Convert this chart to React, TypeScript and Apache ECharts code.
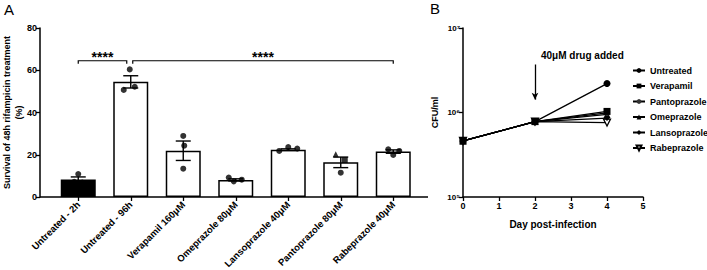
import React, { useEffect, useRef } from 'react';
import * as echarts from 'echarts';

// ---------- Panel A data ----------
const categories = [
  'Untreated - 2h',
  'Untreated - 96h',
  'Verapamil 160μM',
  'Omeprazole 80μM',
  'Lansoprazole 40μM',
  'Pantoprazole 80μM',
  'Rabeprazole 40μM',
];
const barMeans = [8.3, 54.5, 21.9, 8.1, 22.4, 16.4, 21.5];
const barSems = [1.2, 2.9, 4.6, 0.5, 0.4, 2.5, 0.8];
const replicates = [
  [10.9, 7.2, 6.8],
  [60.4, 50.7, 52.2],
  [28.9, 24.3, 13.4],
  [9.2, 7.4, 8.2],
  [21.8, 23.6, 22.9],
  [20.2, 17.5, 11.5],
  [22.6, 19.9, 21.8],
];
const replicateJitterPx = [
  [0, -4, 4],
  [-1, -7, 4],
  [0, 1, 0],
  [-7, -2, 6],
  [-9, 0, 9],
  [-5, 4, 0],
  [-5, 0, 6],
];
const replicateSymbols = [
  ['circle', 'circle', 'circle'],
  ['circle', 'circle', 'circle'],
  ['circle', 'circle', 'circle'],
  ['circle', 'circle', 'circle'],
  ['circle', 'circle', 'circle'],
  ['triangle', 'rect', 'circle'],
  ['circle', 'circle', 'circle'],
];
const yTicksA = [0, 20, 40, 60, 80];
const brackets = [
  { from: 0, to: 1, y: 64.5, label: '****', insetL: 0, insetR: -4 },
  { from: 1, to: 6, y: 64.5, label: '****', insetL: 2, insetR: 0 },
];

// ---------- Panel B data ----------
const days = [0, 2, 4];
const cfuUntreated = [4.6e5, 7.8e5, 2.2e6];
const cfuVerapamil = [4.6e5, 7.8e5, 1.03e6];
const cfuPantoprazole = [4.6e5, 7.8e5, 0.99e6];
const cfuOmeprazole = [4.6e5, 7.8e5, 0.95e6];
const cfuLansoprazole = [4.6e5, 7.8e5, 0.86e6];
const cfuRabeprazole = [4.6e5, 7.8e5, 0.76e6];
const drugAddedDay = 2;
const arrowFromTo = [3.7e6, 1.42e6];

const FONT = 'Liberation Sans';

export default function App() {
  const ref = useRef<HTMLDivElement>(null);

  useEffect(() => {
    if (!ref.current) return;
    const chart = echarts.init(ref.current, null, { renderer: 'svg' });

    const sup: Record<number, string> = { 5: '⁵', 6: '⁶', 7: '⁷' };

    const scatterData: any[] = [];
    replicates.forEach((vals, i) => {
      vals.forEach((v, j) => {
        scatterData.push({
          value: [i, v],
          symbol: replicateSymbols[i][j],
          symbolOffset: [replicateJitterPx[i][j], 0],
        });
      });
    });

    const lineSeries = [
      { name: 'Untreated', data: cfuUntreated, symbol: 'circle', size: 7, fill: '#000' },
      { name: 'Verapamil', data: cfuVerapamil, symbol: 'rect', size: 7, fill: '#000' },
      { name: 'Pantoprazole', data: cfuPantoprazole, symbol: 'circle', size: 6, fill: '#333' },
      { name: 'Omeprazole', data: cfuOmeprazole, symbol: 'triangle', size: 7, fill: '#000' },
      { name: 'Lansoprazole', data: cfuLansoprazole, symbol: 'diamond', size: 6, fill: '#000' },
      { name: 'Rabeprazole', data: cfuRabeprazole, symbol: 'triangle', size: 7, fill: '#fff', rotate: 180 },
    ];

    const option: any = {
      animation: false,
      textStyle: { fontFamily: FONT },
      grid: [
        { left: 52, top: 28, width: 367.5, height: 169, outerBoundsMode: 'none', containLabel: false },
        { left: 463, top: 28, width: 180, height: 169, outerBoundsMode: 'none', containLabel: false },
      ],
      xAxis: [
        {
          gridIndex: 0,
          type: 'category',
          data: categories,
          axisLine: { show: false },
          axisTick: { show: true, alignWithLabel: true, length: 4, lineStyle: { color: '#000', width: 1.3 } },
          axisLabel: {
            rotate: 45,
            margin: 6,
            color: '#000',
            fontSize: 9.5,
            fontWeight: 'bold',
            fontFamily: FONT,
            interval: 0,
          },
        },
        {
          gridIndex: 1,
          type: 'value',
          min: 0,
          max: 5,
          interval: 1,
          name: 'Day post-infection',
          nameLocation: 'middle',
          nameGap: 22,
          nameMoveOverlap: false,
          nameTextStyle: { color: '#000', fontSize: 10, fontWeight: 'bold', fontFamily: FONT },
          axisLine: { show: true, lineStyle: { color: '#000', width: 1.5 } },
          axisTick: { show: true, length: 4, lineStyle: { color: '#000', width: 1.3 } },
          axisLabel: { color: '#000', fontSize: 9, fontWeight: 'bold', margin: 4, fontFamily: FONT },
          splitLine: { show: false },
        },
      ],
      yAxis: [
        {
          gridIndex: 0,
          type: 'value',
          min: yTicksA[0],
          max: yTicksA[yTicksA.length - 1],
          interval: 20,
          offset: 12,
          name: 'Survival of 48h rifampicin treatment\n(%)',
          nameLocation: 'middle',
          nameGap: 15,
          nameMoveOverlap: false,
          nameTextStyle: { color: '#000', fontSize: 9, fontWeight: 'bold', lineHeight: 12, fontFamily: FONT },
          axisLine: { show: true, lineStyle: { color: '#000', width: 1.5 } },
          axisTick: { show: true, length: 4, lineStyle: { color: '#000', width: 1.3 } },
          axisLabel: { color: '#000', fontSize: 9, fontWeight: 'bold', margin: 3, fontFamily: FONT },
          splitLine: { show: false },
        },
        {
          gridIndex: 1,
          type: 'log',
          logBase: 10,
          min: 1e5,
          max: 1e7,
          name: 'CFU/ml',
          nameLocation: 'middle',
          nameGap: 24,
          nameMoveOverlap: false,
          nameTextStyle: { color: '#000', fontSize: 9, fontWeight: 'bold', fontFamily: FONT },
          axisLine: { show: true, lineStyle: { color: '#000', width: 1.5 } },
          axisTick: { show: true, length: 4, lineStyle: { color: '#000', width: 1.3 } },
          axisLabel: {
            color: '#000',
            fontSize: 8,
            fontWeight: 'bold',
            margin: 3,
            fontFamily: FONT,
            formatter: (v: number) => '10' + (sup[Math.round(Math.log10(v))] || ''),
          },
          splitLine: { show: false },
        },
      ],
      legend: {
        orient: 'vertical',
        left: 627,
        top: 61,
        itemWidth: 12,
        itemHeight: 6,
        itemGap: 6.5,
        data: lineSeries.map((s) => s.name),
        textStyle: { color: '#000', fontSize: 9, fontWeight: 'bold', lineHeight: 9, fontFamily: FONT },
      },
      series: [
        {
          type: 'bar',
          xAxisIndex: 0,
          yAxisIndex: 0,
          barWidth: 35,
          data: barMeans.map((v, i) => ({
            value: v,
            itemStyle: {
              color: i === 0 ? '#000' : '#fff',
              borderColor: '#000',
              borderWidth: 1.5,
            },
          })),
          z: 2,
        },
        {
          type: 'custom',
          xAxisIndex: 0,
          yAxisIndex: 0,
          z: 3,
          data: barMeans.map((m, i) => [i, m, barSems[i]]),
          renderItem: (params: any, api: any) => {
            const x = api.value(0);
            const m = api.value(1);
            const s = api.value(2);
            const top = api.coord([x, m + s]);
            const bot = api.coord([x, m - s]);
            const hw = 7.5;
            const st = { stroke: '#000', lineWidth: 1.4 };
            return {
              type: 'group',
              children: [
                { type: 'line', shape: { x1: top[0], y1: top[1], x2: bot[0], y2: bot[1] }, style: st },
                { type: 'line', shape: { x1: top[0] - hw, y1: top[1], x2: top[0] + hw, y2: top[1] }, style: st },
                { type: 'line', shape: { x1: bot[0] - hw, y1: bot[1], x2: bot[0] + hw, y2: bot[1] }, style: st },
              ],
            };
          },
        },
        {
          type: 'scatter',
          xAxisIndex: 0,
          yAxisIndex: 0,
          z: 4,
          symbolSize: 6,
          itemStyle: { color: '#000' },
          data: scatterData,
        },
        {
          type: 'custom',
          xAxisIndex: 0,
          yAxisIndex: 0,
          z: 5,
          data: brackets.map((b) => [b.from, b.to, b.y, b.insetL, b.insetR]),
          renderItem: (params: any, api: any) => {
            const b = brackets[params.dataIndex];
            const p0 = api.coord([b.from, b.y]);
            const p1 = api.coord([b.to, b.y]);
            const x0 = p0[0] + b.insetL;
            const x1 = p1[0] + b.insetR;
            const y = p0[1];
            return {
              type: 'group',
              children: [
                {
                  type: 'polyline',
                  shape: { points: [[x0, y + 3], [x0, y], [x1, y], [x1, y + 3]] },
                  style: { stroke: '#000', lineWidth: 1.2, fill: 'none' },
                },
                {
                  type: 'text',
                  x: (x0 + x1) / 2,
                  y: y - 4,
                  style: {
                    text: b.label,
                    fill: '#000',
                    fontSize: 14,
                    fontWeight: 'bold',
                    fontFamily: FONT,
                    align: 'center',
                    verticalAlign: 'middle',
                  },
                },
              ],
            };
          },
        },
        ...lineSeries.map((s, k) => ({
          type: 'line',
          name: s.name,
          xAxisIndex: 1,
          yAxisIndex: 1,
          data: days.map((d, i) => [d, s.data[i]]),
          symbol: s.symbol,
          symbolSize: s.size,
          symbolRotate: s.rotate || 0,
          showAllSymbol: true,
          lineStyle: { color: '#000', width: 1.3 },
          itemStyle: { color: s.fill, borderColor: '#000', borderWidth: s.fill === '#fff' ? 1.3 : 0 },
          z: 10 - k,
          markLine:
            k === 0
              ? {
                  silent: true,
                  symbol: ['none', 'arrow'],
                  symbolSize: [5, 7],
                  label: { show: false },
                  lineStyle: { color: '#000', width: 1.3, type: 'solid' },
                  data: [[{ coord: [drugAddedDay, arrowFromTo[0]] }, { coord: [drugAddedDay, arrowFromTo[1]] }]],
                }
              : undefined,
        })),
      ],
      graphic: [
        {
          type: 'line',
          shape: { x1: 40, y1: 197, x2: 428, y2: 197 },
          style: { stroke: '#000', lineWidth: 1.5 },
          z: 100,
        },
        {
          type: 'text',
          left: 541,
          top: 50,
          style: {
            text: '40μM drug added',
            fill: '#000',
            fontSize: 10,
            fontWeight: 'bold',
            fontFamily: FONT,
            align: 'center',
          },
        },
        {
          type: 'text',
          left: 4,
          top: 2,
          style: { text: 'A', fill: '#000', fontSize: 15, fontFamily: FONT },
        },
        {
          type: 'text',
          left: 430,
          top: 1,
          style: { text: 'B', fill: '#000', fontSize: 15, fontFamily: FONT },
        },
      ],
    };

    chart.setOption(option);
    return () => chart.dispose();
  }, []);

  return (
    <div
      ref={ref}
      style={{ position: 'fixed', left: 0, top: 0, width: 707, height: 270, background: '#fff' }}
    />
  );
}
